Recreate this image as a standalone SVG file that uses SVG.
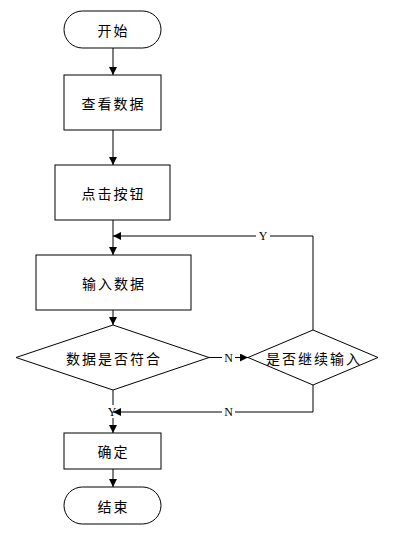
<svg xmlns="http://www.w3.org/2000/svg" width="400" height="536" viewBox="0 0 400 536">
<style>
.s{fill:#fff;stroke:#000;stroke-width:1}
.t{font-family:"Noto Sans CJK SC","Liberation Sans",sans-serif;font-size:14px;fill:#000;text-anchor:middle;dominant-baseline:central;letter-spacing:2px}
.l{font-family:"Liberation Serif",serif;font-size:12px;fill:#000;text-anchor:middle;dominant-baseline:central}
.c{fill:none;stroke:#000;stroke-width:1}
</style>
<defs>
<marker id="a" markerWidth="8" markerHeight="8" refX="8" refY="4" orient="auto" markerUnits="userSpaceOnUse">
<path d="M0,0 L8,4 L0,8 Z" fill="#000"/>
</marker>
</defs>
<rect width="400" height="536" fill="#fff"/>
<g id="connectors">
<line class="c" x1="113" y1="48" x2="113" y2="75" marker-end="url(#a)"/>
<line class="c" x1="113" y1="130" x2="113" y2="165" marker-end="url(#a)"/>
<line class="c" x1="113" y1="220" x2="113" y2="255" marker-end="url(#a)"/>
<line class="c" x1="113" y1="310" x2="113" y2="325" marker-end="url(#a)"/>
<polyline class="c" points="313,330 313,236 113,236" marker-end="url(#a)"/>
<line class="c" x1="209" y1="357.5" x2="248" y2="357.5" marker-end="url(#a)"/>
<polyline class="c" points="313,385 313,412 113,412" marker-end="url(#a)"/>
<line class="c" x1="113" y1="390" x2="113" y2="405"/>
<line class="c" x1="113" y1="418" x2="113" y2="433" marker-end="url(#a)"/>
<line class="c" x1="113" y1="469" x2="113" y2="487" marker-end="url(#a)"/>
<rect x="256" y="229" width="14" height="14" fill="#fff"/>
<text class="l" x="263" y="236">Y</text>
<rect x="222" y="351" width="13" height="13" fill="#fff"/>
<text class="l" x="228.5" y="357.5">N</text>
<rect x="222" y="405" width="13" height="14" fill="#fff"/>
<text class="l" x="228.5" y="412">N</text>
<text class="l" x="112" y="412">Y</text>
</g>
<g id="start"><rect class="s" x="64" y="11" width="97" height="37" rx="18.5"/><text class="t" x="113.5" y="29.5">开始</text></g>
<g id="view"><rect class="s" x="64" y="75" width="97" height="55"/><text class="t" x="113.5" y="102.5">查看数据</text></g>
<g id="click"><rect class="s" x="55" y="165" width="115" height="55"/><text class="t" x="113.5" y="192.5">点击按钮</text></g>
<g id="input"><rect class="s" x="36" y="255" width="155" height="55"/><text class="t" x="114" y="282.5">输入数据</text></g>
<g id="check"><polygon class="s" points="113,325 209,357.5 113,390 16,357.5"/><text class="t" x="114" y="357.5">数据是否符合</text></g>
<g id="continue"><polygon class="s" points="313,330 378,357.5 313,385 248,357.5"/><text class="t" x="314" y="357.5">是否继续输入</text></g>
<g id="confirm"><rect class="s" x="64" y="433" width="97" height="36"/><text class="t" x="113.5" y="451">确定</text></g>
<g id="end"><rect class="s" x="64" y="487" width="97" height="37" rx="18.5"/><text class="t" x="113.5" y="505.5">结束</text></g>
</svg>
